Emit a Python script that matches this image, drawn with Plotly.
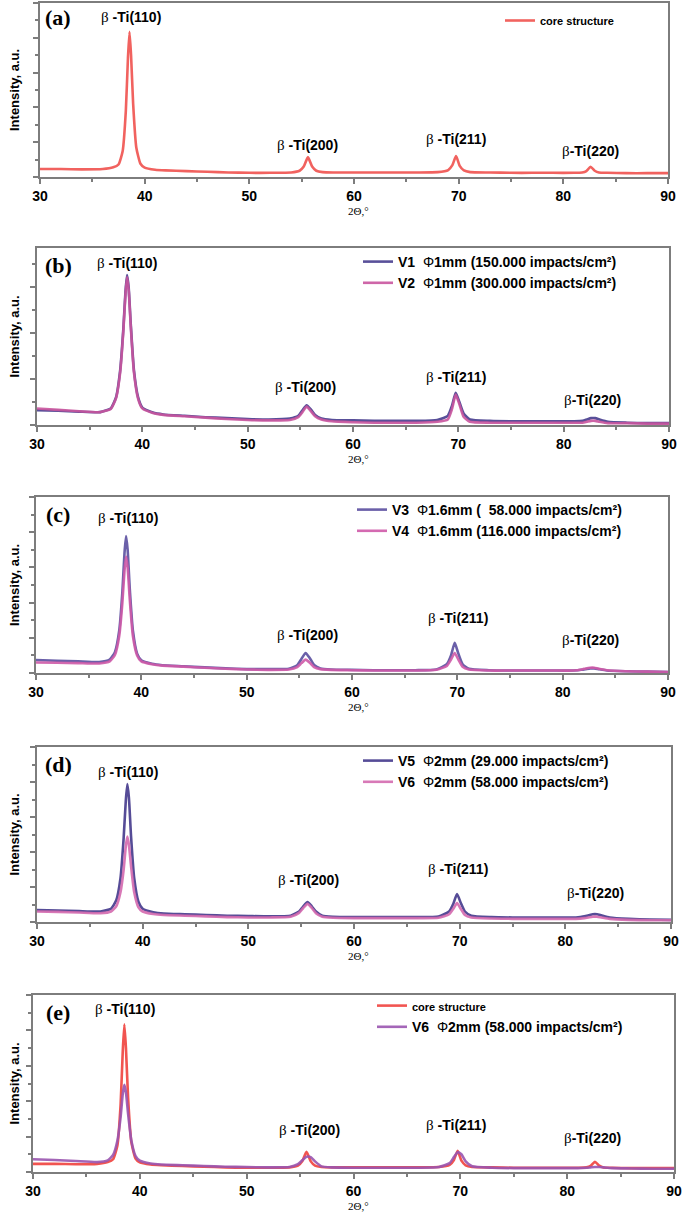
import plotly.graph_objects as go

# ---------------- data ----------------
TWO_THETA = [30, 32, 34, 36, 37, 37.5, 37.9, 38.2, 38.4, 38.55, 38.7, 38.9, 39.2, 39.6, 40, 41,
             42, 44, 46, 48, 50, 52, 54,
             54.8, 55.2, 55.6, 56.0, 56.4, 57,
             58, 60, 62, 64, 66, 68,
             69.0, 69.4, 69.75, 70.1, 70.5, 71.1,
             73, 75, 77, 79, 81,
             81.8, 82.2, 82.6, 83.0, 83.4, 84.2,
             86, 88, 90]

core = [0.23, 0.23, 0.22, 0.23, 0.28, 0.36, 0.75, 1.9, 3.4, 4.17, 3.5, 2.1, 0.85, 0.38, 0.27, 0.21,
        0.19, 0.17, 0.15, 0.13, 0.12, 0.12, 0.13,
        0.18, 0.30, 0.57, 0.30, 0.18, 0.14,
        0.13, 0.13, 0.13, 0.13, 0.13, 0.14,
        0.20, 0.34, 0.60, 0.32, 0.19, 0.14,
        0.13, 0.12, 0.12, 0.12, 0.12,
        0.13, 0.17, 0.29, 0.18, 0.13, 0.12,
        0.11, 0.11, 0.11]

v1 = [0.32, 0.31, 0.29, 0.28, 0.36, 0.60, 1.2, 2.1, 2.9, 3.26, 3.0, 2.2, 1.2, 0.60, 0.38, 0.27,
      0.23, 0.20, 0.17, 0.15, 0.13, 0.12, 0.14,
      0.20, 0.32, 0.43, 0.34, 0.22, 0.14,
      0.11, 0.10, 0.09, 0.09, 0.09, 0.11,
      0.20, 0.42, 0.70, 0.50, 0.25, 0.12,
      0.09, 0.08, 0.08, 0.08, 0.08,
      0.09, 0.12, 0.15, 0.15, 0.12, 0.07,
      0.05, 0.04, 0.04]

v2 = [0.36, 0.33, 0.30, 0.28, 0.35, 0.58, 1.15, 2.05, 2.85, 3.22, 2.95, 2.15, 1.15, 0.57, 0.36, 0.26,
      0.22, 0.19, 0.16, 0.13, 0.11, 0.10, 0.11,
      0.17, 0.28, 0.40, 0.30, 0.19, 0.12,
      0.08, 0.06, 0.05, 0.05, 0.05, 0.07,
      0.12, 0.35, 0.66, 0.45, 0.18, 0.07,
      0.05, 0.05, 0.05, 0.05, 0.05,
      0.05, 0.07, 0.09, 0.09, 0.07, 0.04,
      0.04, 0.03, 0.03]

v3 = [0.37, 0.35, 0.33, 0.31, 0.38, 0.60, 1.2, 2.3, 3.4, 3.89, 3.5, 2.4, 1.2, 0.55, 0.36, 0.26,
      0.22, 0.19, 0.16, 0.13, 0.11, 0.11, 0.12,
      0.22, 0.40, 0.57, 0.42, 0.23, 0.13,
      0.10, 0.09, 0.08, 0.08, 0.08, 0.10,
      0.25, 0.50, 0.86, 0.55, 0.25, 0.12,
      0.08, 0.07, 0.07, 0.07, 0.07,
      0.09, 0.11, 0.13, 0.13, 0.11, 0.07,
      0.05, 0.04, 0.03]

v4 = [0.30, 0.29, 0.28, 0.27, 0.33, 0.52, 1.05, 2.0, 2.9, 3.31, 3.0, 2.1, 1.05, 0.50, 0.33, 0.25,
      0.21, 0.18, 0.15, 0.12, 0.10, 0.09, 0.10,
      0.17, 0.28, 0.38, 0.29, 0.17, 0.11,
      0.09, 0.08, 0.07, 0.07, 0.07, 0.09,
      0.20, 0.38, 0.57, 0.38, 0.18, 0.10,
      0.07, 0.07, 0.07, 0.07, 0.07,
      0.10, 0.13, 0.15, 0.15, 0.12, 0.08,
      0.05, 0.04, 0.03]

v5 = [0.34, 0.33, 0.31, 0.30, 0.38, 0.62, 1.25, 2.4, 3.45, 3.94, 3.55, 2.45, 1.25, 0.58, 0.38, 0.28,
      0.24, 0.22, 0.20, 0.18, 0.17, 0.16, 0.18,
      0.30, 0.45, 0.57, 0.45, 0.30, 0.18,
      0.15, 0.14, 0.14, 0.14, 0.14, 0.16,
      0.30, 0.52, 0.80, 0.55, 0.30, 0.18,
      0.14, 0.13, 0.13, 0.13, 0.13,
      0.16, 0.19, 0.22, 0.22, 0.19, 0.13,
      0.09, 0.07, 0.06]

v6 = [0.30, 0.29, 0.27, 0.25, 0.30, 0.45, 0.85, 1.5, 2.15, 2.44, 2.2, 1.6, 0.85, 0.42, 0.30, 0.23,
      0.20, 0.18, 0.16, 0.14, 0.13, 0.13, 0.15,
      0.26, 0.40, 0.52, 0.40, 0.25, 0.15,
      0.12, 0.11, 0.11, 0.11, 0.11, 0.12,
      0.22, 0.38, 0.54, 0.38, 0.20, 0.13,
      0.10, 0.09, 0.09, 0.09, 0.09,
      0.11, 0.13, 0.15, 0.15, 0.13, 0.09,
      0.06, 0.05, 0.05]

v6_e = [0.36, 0.34, 0.31, 0.28, 0.33, 0.48, 0.88, 1.55, 2.2, 2.46, 2.25, 1.65, 0.90, 0.45, 0.32, 0.24,
        0.21, 0.19, 0.17, 0.15, 0.14, 0.13, 0.14,
        0.22, 0.33, 0.43, 0.42, 0.30, 0.16,
        0.13, 0.12, 0.12, 0.12, 0.12, 0.14,
        0.25, 0.42, 0.56, 0.50, 0.30, 0.16,
        0.12, 0.11, 0.11, 0.11, 0.11,
        0.12, 0.13, 0.14, 0.14, 0.13, 0.11,
        0.10, 0.09, 0.09]

X_TICKS = [30, 40, 50, 60, 70, 80, 90]
PANEL_LABELS = ["(a)", "(b)", "(c)", "(d)", "(e)"]
PEAK_NAMES = ["β -Ti(110)", "β -Ti(200)", "β -Ti(211)", "β-Ti(220)"]

# ---------------- layout helpers ----------------
W, H = 685, 1218
def px(x):
    return x / W
def py(y):
    return 1 - y / H

panels = [
    dict(left=40, right=668, top=3, bottom=177, ymax=5.0),
    dict(left=37, right=669, top=248, bottom=425, ymax=3.85),
    dict(left=36, right=668, top=497, bottom=673, ymax=5.0),
    dict(left=37, right=671, top=747, bottom=922, ymax=5.0),
    dict(left=33, right=674, top=995, bottom=1172, ymax=5.0),
]

PHI = '<span style="font-weight:normal;font-size:14px">Φ</span>'
SQ = "²"
series = [
    # (panel index, y-data, name, colour, legend)
    (0, core, "core structure", "#f0524e", "legend"),
    (1, v1, "V1  " + PHI + "1mm (150.000 impacts/cm" + SQ + ")", "#473d8e", "legend2"),
    (1, v2, "V2  " + PHI + "1mm (300.000 impacts/cm" + SQ + ")", "#c9559e", "legend2"),
    (2, v3, "V3  " + PHI + "1.6mm (  58.000 impacts/cm" + SQ + ")", "#5b4fa0", "legend3"),
    (2, v4, "V4  " + PHI + "1.6mm (116.000 impacts/cm" + SQ + ")", "#cf5aa8", "legend3"),
    (3, v5, "V5  " + PHI + "2mm (29.000 impacts/cm" + SQ + ")", "#44398c", "legend4"),
    (3, v6, "V6  " + PHI + "2mm (58.000 impacts/cm" + SQ + ")", "#d46aaf", "legend4"),
    (4, core, '<span style="font-size:11px">core structure</span>', "#f0423e", "legend5"),
    (4, v6_e, "V6  " + PHI + "2mm (58.000 impacts/cm" + SQ + ")", "#9a55b0", "legend5"),
]

fig = go.Figure()
for pi, yd, name, col, leg in series:
    sfx = "" if pi == 0 else str(pi + 1)
    fig.add_trace(go.Scatter(
        x=TWO_THETA, y=yd, mode="lines", name=name,
        line=dict(color=col, width=2.6, shape="spline", smoothing=0.5),
        opacity=0.9, xaxis="x" + sfx, yaxis="y" + sfx, legend=leg,
        showlegend=True))

axis_col = "#7d7d7d"
layout = dict(
    width=W, height=H, margin=dict(l=0, r=0, t=0, b=0, autoexpand=False),
    paper_bgcolor="white", plot_bgcolor="white",
    font=dict(family="Liberation Sans, Arial", color="black"),
)
annotations = []
for i, p in enumerate(panels):
    sfx = "" if i == 0 else str(i + 1)
    layout["xaxis" + sfx] = dict(
        domain=[px(p["left"]), px(p["right"])], anchor="y" + sfx, automargin=False,
        range=[30, 90], tickvals=X_TICKS, ticks="outside", ticklen=5, tickwidth=1.5,
        tickcolor=axis_col, showline=True, linecolor=axis_col, linewidth=2, mirror=True,
        showgrid=False, zeroline=False,
        tickfont=dict(size=14, weight="bold", color="black", family="Liberation Sans, Arial"),
        minor=dict(dtick=5, ticks="outside", ticklen=3, tickwidth=1.5, tickcolor=axis_col, showgrid=False),
    )
    layout["yaxis" + sfx] = dict(
        domain=[py(p["bottom"]), py(p["top"])], anchor="x" + sfx, automargin=False,
        range=[0, p["ymax"]], dtick=1, tick0=0, ticks="outside", ticklen=5, tickwidth=1.5,
        tickcolor=axis_col, showline=True, linecolor=axis_col, linewidth=2, mirror=True,
        showgrid=False, zeroline=False, showticklabels=False,
        minor=dict(dtick=0.5, ticks="outside", ticklen=3, tickwidth=1.5, tickcolor=axis_col, showgrid=False),
    )
    # y title
    annotations.append(dict(
        text="Intensity, a.u.", xref="paper", yref="paper",
        x=px(14), y=py((p["top"] + p["bottom"]) / 2), textangle=-90,
        showarrow=False, xanchor="center", yanchor="middle",
        font=dict(size=13, weight="bold", family="Liberation Sans, Arial", color="black")))
    # x title
    annotations.append(dict(
        text="2Θ,°", xref="paper", yref="paper",
        x=px(358), y=py(p["bottom"] + 34), showarrow=False,
        xanchor="center", yanchor="middle",
        font=dict(size=11, family="Liberation Serif, Times New Roman", color="black")))
    # panel label
    annotations.append(dict(
        text=PANEL_LABELS[i], xref="paper", yref="paper",
        x=px(58), y=py(p["top"] + 17 if i != 0 else 17), showarrow=False,
        xanchor="center", yanchor="middle",
        font=dict(size=22, weight="bold", family="Liberation Serif, Times New Roman", color="black")))

# peak label positions (pixel centres) per panel
peak_pos = [
    [(131, 17), (307, 145), (456, 139), (590, 151)],
    [(127, 263), (305, 387), (456, 377), (592, 400)],
    [(128, 518), (307, 635), (458, 618), (590, 640)],
    [(128, 772), (308, 880), (458, 869), (595, 893)],
    [(125, 1009), (309, 1130), (456, 1125), (592, 1138)],
]
BETA = '<span style="font-weight:normal;font-family:Liberation Serif;font-size:15px">β</span>'
for plist in peak_pos:
    for (cx, cy), nm in zip(plist, PEAK_NAMES):
        txt = nm.replace("β", BETA)
        annotations.append(dict(
            text=txt, xref="paper", yref="paper", x=px(cx), y=py(cy),
            showarrow=False, xanchor="center", yanchor="middle",
            font=dict(size=14, weight="bold", family="Liberation Sans, Arial", color="black")))

layout["annotations"] = annotations

leg_common = dict(bgcolor="rgba(0,0,0,0)", borderwidth=0, xanchor="left", yanchor="top",
                  tracegroupgap=0, itemclick=False, itemdoubleclick=False,
                  font=dict(size=14, weight="bold", family="Liberation Sans, Arial", color="black"))
layout["legend"] = dict(leg_common, x=px(500), y=py(6),
                        font=dict(size=11, weight="bold", family="Liberation Sans, Arial", color="black"))
layout["legend2"] = dict(leg_common, x=px(358), y=py(246))
layout["legend3"] = dict(leg_common, x=px(352), y=py(494))
layout["legend4"] = dict(leg_common, x=px(358), y=py(745))
layout["legend5"] = dict(leg_common, x=px(372), y=py(990))

fig.update_layout(**layout)
fig.write_html("out.html", config={"displayModeBar": False},
               post_script="document.body.style.margin='0';document.body.style.padding='0';")
